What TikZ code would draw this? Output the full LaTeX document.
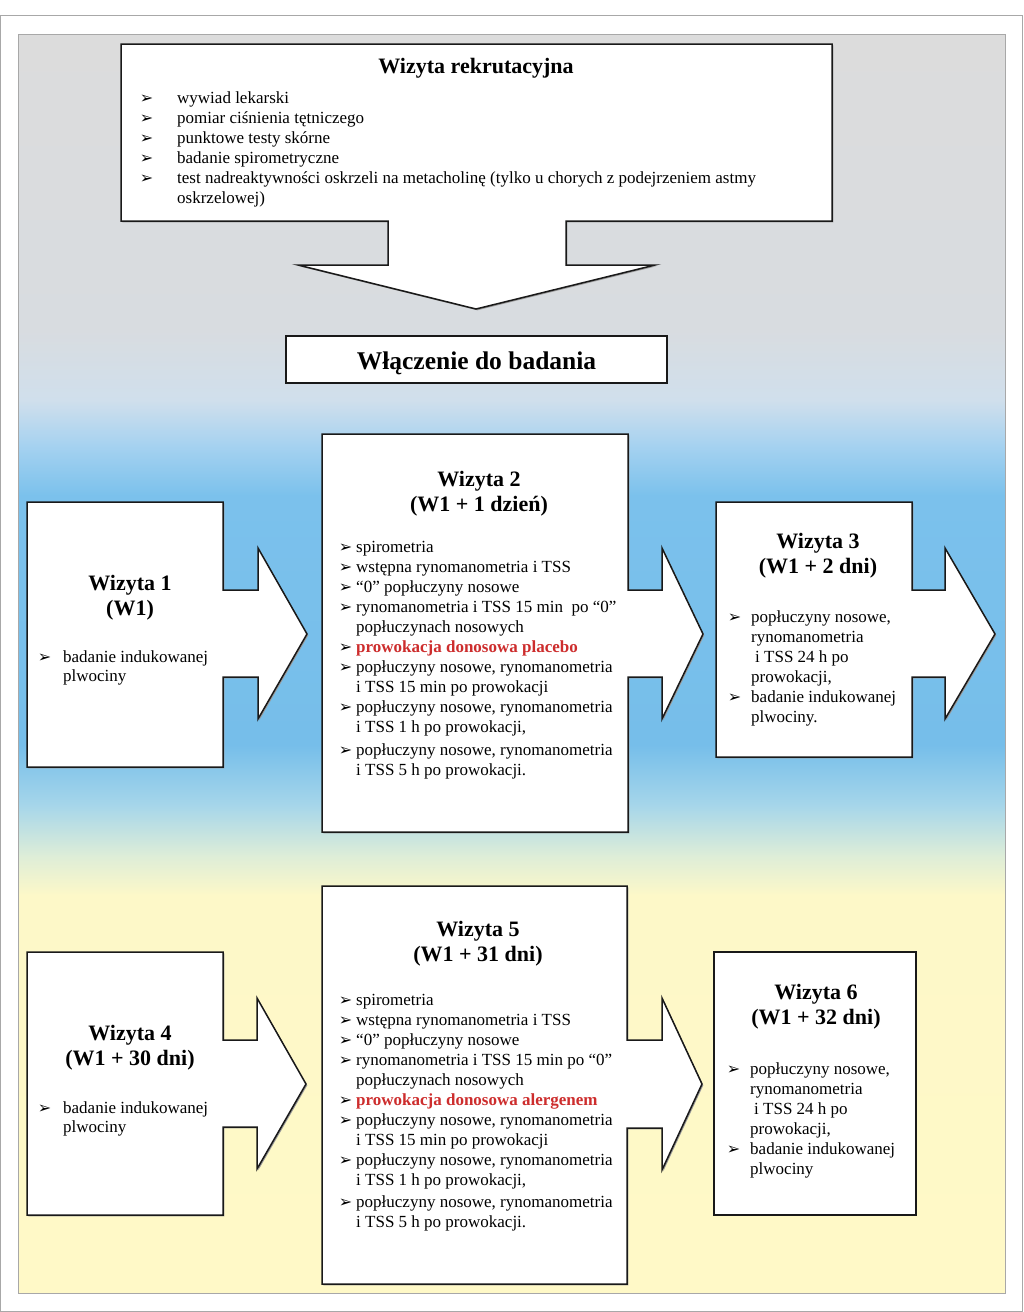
\documentclass[tikz,border=0pt]{standalone}
\usepackage{fontspec}
\setmainfont{Liberation Serif}
\newfontfamily\djv{DejaVu Sans}
\definecolor{cA}{HTML}{DCDCDC}
\definecolor{cB}{HTML}{D8DCE0}
\definecolor{cC}{HTML}{D0DFEC}
\definecolor{cD}{HTML}{A6D2F0}
\definecolor{cE}{HTML}{7BC1EC}
\definecolor{cF}{HTML}{76BEEA}
\definecolor{cG}{HTML}{A6D6EA}
\definecolor{cH}{HTML}{DDEDD8}
\definecolor{cI}{HTML}{FDF8C8}
\definecolor{cJ}{HTML}{FFF9C7}
\definecolor{framegray}{HTML}{A8A8A8}
\definecolor{redc}{RGB}{205,45,45}
\newcommand{\bul}[1]{\llap{\raisebox{-0.8pt}{\djv\fontsize{16}{16}\selectfont ➢}\hspace{#1}}}
\newcommand{\shapewithshadow}[1]{\fill[black!40, shift={(1.3,1.3)}] #1; \path[shapebox] #1;}
\begin{document}
\begin{tikzpicture}[x=1pt,y=-1pt,
  shapebox/.style={fill=white, draw=black!90, line width=1.5pt, line join=miter},
  body/.style={font=\fontsize{17}{20}\selectfont, inner sep=0pt, anchor=base west, text=black},
  ttl/.style={font=\bfseries\fontsize{22}{25}\selectfont, inner sep=0pt, anchor=base, text=black}]
\useasboundingbox (0,0) rectangle (1024,1312);
% page frame
\draw[framegray, line width=0.8pt, fill=white] (0.5,15) rectangle (1022.5,1311);
% background bands
\shade[top color=cA, bottom color=cB] (18,34) rectangle (1005,330.5);
\shade[top color=cB, bottom color=cC] (18,330) rectangle (1005,400.5);
\shade[top color=cC, bottom color=cD] (18,400) rectangle (1005,445.5);
\shade[top color=cD, bottom color=cE] (18,445) rectangle (1005,495.5);
\shade[top color=cE, bottom color=cF] (18,495) rectangle (1005,745.5);
\shade[top color=cF, bottom color=cG] (18,745) rectangle (1005,805.5);
\shade[top color=cG, bottom color=cH] (18,805) rectangle (1005,855.5);
\shade[top color=cH, bottom color=cI] (18,855) rectangle (1005,895.5);
\shade[top color=cI, bottom color=cJ] (18,895) rectangle (1005,1293);
\draw[framegray, line width=0.8pt] (18,34) rectangle (1005,1293);

% top box with down arrow
\shapewithshadow{(121,44) -- (832,44) -- (832,221) -- (566,221) -- (566,265) -- (655,265)
  -- (476,309) -- (298,265) -- (388,265) -- (388,221) -- (121,221) -- cycle}
\node[ttl] (ttop) at (476,73) {Wizyta rekrutacyjna};
\node[body] (r1) at (177,103) {\bul{24pt}wywiad lekarski};
\node[body] (r2) at (177,123) {\bul{24pt}pomiar ciśnienia tętniczego};
\node[body] (r3) at (177,143) {\bul{24pt}punktowe testy skórne};
\node[body] (r4) at (177,163) {\bul{24pt}badanie spirometryczne};
\node[body] (r5) at (177,183) {\bul{24pt}test nadreaktywności oskrzeli na metacholinę (tylko u chorych z podejrzeniem astmy};
\node[body] (r6) at (177,203) {oskrzelowej)};

% inclusion box
\shapewithshadow{(286,336) -- (667,336) -- (667,383) -- (286,383) -- cycle}
\node[inner sep=0pt, anchor=base, font=\bfseries\fontsize{25.5}{28}\selectfont] (incl) at (476.5,369) {Włączenie do badania};

% row 1
\shapewithshadow{(27,502) -- (223,502) -- (223,590) -- (258,590) -- (258,548) -- (307,634)
  -- (258,719) -- (258,677) -- (223,677) -- (223,767) -- (27,767) -- cycle}
\shapewithshadow{(322,434) -- (628,434) -- (628,590) -- (662,590) -- (662,548) -- (703,634)
  -- (662,719) -- (662,677) -- (628,677) -- (628,832) -- (322,832) -- cycle}
\shapewithshadow{(716,502) -- (912,502) -- (912,590) -- (945,590) -- (945,548) -- (995,634)
  -- (945,719) -- (945,677) -- (912,677) -- (912,757) -- (716,757) -- cycle}

\node[ttl] (w1t) at (130,590) {Wizyta 1};
\node[ttl] (w1d) at (130,615) {(W1)};
\node[body] (w1a) at (63,662) {\bul{12pt}badanie indukowanej};
\node[body] (w1b) at (63,681) {plwociny};

\node[ttl] (w2t) at (479,486) {Wizyta 2};
\node[ttl] (w2d) at (479,511) {(W1 + 1 dzień)};
\node[body] (w2a) at (356,552) {\bul{4pt}spirometria};
\node[body] (w2b) at (356,572) {\bul{4pt}wstępna rynomanometria i TSS};
\node[body] (w2c) at (356,592) {\bul{4pt}“0” popłuczyny nosowe};
\node[body] (w2d2) at (356,612) {\bul{4pt}rynomanometria i TSS 15 min\ \ po “0”};
\node[body] (w2e) at (356,632) {popłuczynach nosowych};
\node[body] (w2f) at (356,652) {\bul{4pt}{\color{redc}\bfseries prowokacja donosowa placebo}};
\node[body] (w2g) at (356,672) {\bul{4pt}popłuczyny nosowe, rynomanometria};
\node[body] (w2h) at (356,692) {i TSS 15 min po prowokacji};
\node[body] (w2i) at (356,712) {\bul{4pt}popłuczyny nosowe, rynomanometria};
\node[body] (w2j) at (356,732) {i TSS 1 h po prowokacji,};
\node[body] (w2k) at (356,755) {\bul{4pt}popłuczyny nosowe, rynomanometria};
\node[body] (w2l) at (356,775) {i TSS 5 h po prowokacji.};

\node[ttl] (w3t) at (818,548) {Wizyta 3};
\node[ttl] (w3d) at (818,573) {(W1 + 2 dni)};
\node[body] (w3a) at (751,622) {\bul{10pt}popłuczyny nosowe,};
\node[body] (w3b) at (751,642) {rynomanometria};
\node[body] (w3c) at (751,662) {\hspace{4pt}i TSS 24 h po};
\node[body] (w3d2) at (751,682) {prowokacji,};
\node[body] (w3e) at (751,702) {\bul{10pt}badanie indukowanej};
\node[body] (w3f) at (751,722) {plwociny.};

% row 2
\shapewithshadow{(27,952) -- (223,952) -- (223,1040) -- (257,1040) -- (257,998) -- (306,1084)
  -- (257,1169) -- (257,1127) -- (223,1127) -- (223,1215) -- (27,1215) -- cycle}
\shapewithshadow{(322,886) -- (627,886) -- (627,1040) -- (662,1040) -- (662,998) -- (702,1084)
  -- (662,1170) -- (662,1128) -- (627,1128) -- (627,1284) -- (322,1284) -- cycle}
\shapewithshadow{(714,952) -- (916,952) -- (916,1215) -- (714,1215) -- cycle}

\node[ttl] (w4t) at (130,1040) {Wizyta 4};
\node[ttl] (w4d) at (130,1065) {(W1 + 30 dni)};
\node[body] (w4a) at (63,1113) {\bul{12pt}badanie indukowanej};
\node[body] (w4b) at (63,1132) {plwociny};

\node[ttl] (w5t) at (478,936) {Wizyta 5};
\node[ttl] (w5d) at (478,961) {(W1 + 31 dni)};
\node[body] (w5a) at (356,1005) {\bul{4pt}spirometria};
\node[body] (w5b) at (356,1025) {\bul{4pt}wstępna rynomanometria i TSS};
\node[body] (w5c) at (356,1045) {\bul{4pt}“0” popłuczyny nosowe};
\node[body] (w5d2) at (356,1065) {\bul{4pt}rynomanometria i TSS 15 min po “0”};
\node[body] (w5e) at (356,1085) {popłuczynach nosowych};
\node[body] (w5f) at (356,1105) {\bul{4pt}{\color{redc}\bfseries prowokacja donosowa\ alergenem}};
\node[body] (w5g) at (356,1125) {\bul{4pt}popłuczyny nosowe, rynomanometria};
\node[body] (w5h) at (356,1145) {i TSS 15 min po prowokacji};
\node[body] (w5i) at (356,1165) {\bul{4pt}popłuczyny nosowe, rynomanometria};
\node[body] (w5j) at (356,1185) {i TSS 1 h po prowokacji,};
\node[body] (w5k) at (356,1207) {\bul{4pt}popłuczyny nosowe, rynomanometria};
\node[body] (w5l) at (356,1227) {i TSS 5 h po prowokacji.};

\node[ttl] (w6t) at (816,999) {Wizyta 6};
\node[ttl] (w6d) at (816,1024) {(W1 + 32 dni)};
\node[body] (w6a) at (750,1074) {\bul{10pt}popłuczyny nosowe,};
\node[body] (w6b) at (750,1094) {rynomanometria};
\node[body] (w6c) at (750,1114) {\hspace{4pt}i TSS 24 h po};
\node[body] (w6d2) at (750,1134) {prowokacji,};
\node[body] (w6e) at (750,1154) {\bul{10pt}badanie indukowanej};
\node[body] (w6f) at (750,1174) {plwociny};
\end{tikzpicture}
\end{document}
